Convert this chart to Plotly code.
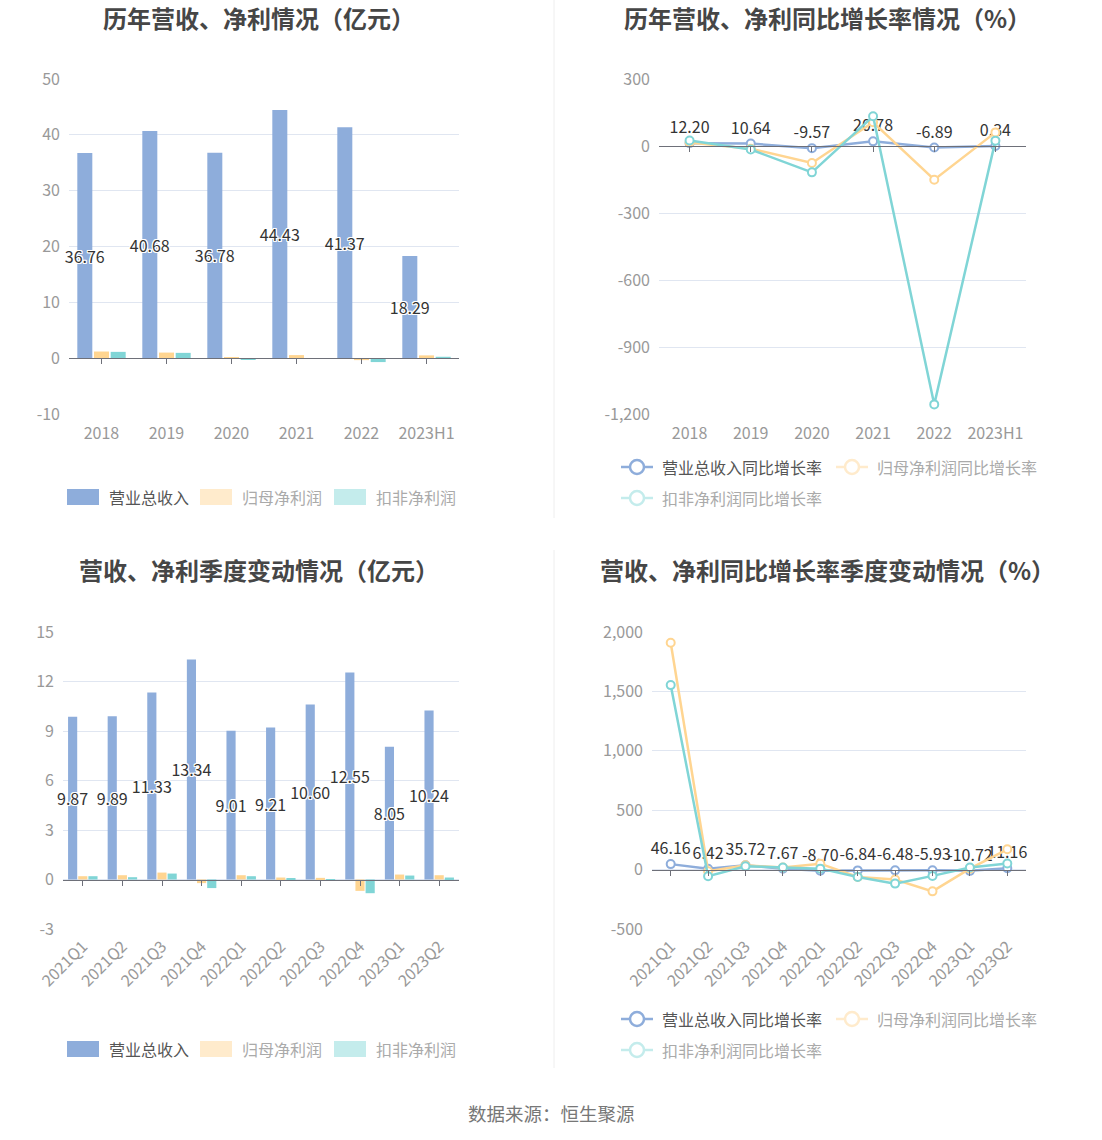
import plotly.graph_objects as go

W, H = 1102, 1140
FONT = "Noto Sans CJK SC, Noto Sans, sans-serif"

# ---------------- data ----------------
years = ["2018", "2019", "2020", "2021", "2022", "2023H1"]
revenue = [36.76, 40.68, 36.78, 44.43, 41.37, 18.29]
net_profit = [1.19, 1.00, 0.20, 0.55, -0.35, 0.50]
deducted_profit = [1.13, 0.95, -0.25, 0.03, -0.70, 0.25]

revenue_yoy = [12.20, 10.64, -9.57, 20.78, -6.89, 0.34]
net_profit_yoy = [16, -12, -76, 106, -151, 61]
deducted_yoy = [25, -16, -118, 133, -1157, 24]

quarters = ["2021Q1", "2021Q2", "2021Q3", "2021Q4", "2022Q1",
            "2022Q2", "2022Q3", "2022Q4", "2023Q1", "2023Q2"]
q_revenue = [9.87, 9.89, 11.33, 13.34, 9.01, 9.21, 10.60, 12.55, 8.05, 10.24]
q_net_profit = [0.20, 0.26, 0.42, -0.22, 0.26, 0.12, 0.10, -0.69, 0.30, 0.26]
q_deducted = [0.20, 0.14, 0.36, -0.52, 0.20, 0.08, -0.03, -0.83, 0.24, 0.12]

q_revenue_yoy = [46.16, 6.42, 35.72, 7.67, -8.70, -6.84, -6.48, -5.93, -10.72, 11.16]
q_net_profit_yoy = [1910, -14, 36, 17, 50, -62, -84, -183, 8, 171]
q_deducted_yoy = [1553, -56, 28, 17, 8, -62, -118, -53, 17, 51]

ticks_tl = [-10, 0, 10, 20, 30, 40, 50]
ticks_tr = [-1200, -900, -600, -300, 0, 300]
ticks_bl = [-3, 0, 3, 6, 9, 12, 15]
ticks_br = [-500, 0, 500, 1000, 1500, 2000]

bar_names = ["营业总收入", "归母净利润", "扣非净利润"]
line_names = ["营业总收入同比增长率", "归母净利润同比增长率", "扣非净利润同比增长率"]
titles = ["历年营收、净利情况（亿元）", "历年营收、净利同比增长率情况（%）",
          "营收、净利季度变动情况（亿元）", "营收、净利同比增长率季度变动情况（%）"]
source_text = "数据来源：恒生聚源"

# ---------------- style ----------------
BLUE, YELLOW, CYAN = "#8EADDB", "#FFD591", "#80D5D6"
PALE = ["#8EADDB", "#FFEBCC", "#C4ECEC"]
COLORS = [BLUE, YELLOW, CYAN]
GRID = "#E0E6F1"
AXIS = "#6E7079"
TICKC = "#999999"
LABEL_SHADOW = ("-1px -1px 0 #fff, 1px -1px 0 #fff, -1px 1px 0 #fff, 1px 1px 0 #fff, "
                "0 1px 0 #fff, 0 -1px 0 #fff, 1px 0 0 #fff, -1px 0 0 #fff")


def px(x):
    return x / W


def py(y):
    return 1 - y / H


fig = go.Figure()


# ---------------- traces ----------------
def add_bars(cats, series, xa, ya):
    for i, (name, vals) in enumerate(zip(bar_names, series)):
        kw = {}
        if i == 0:
            kw = dict(text=[f"{v:.2f}" for v in vals], textposition="inside",
                      insidetextanchor="middle", textangle=0, constraintext="none",
                      insidetextfont=dict(size=16, color="#333333", family=FONT,
                                          shadow=LABEL_SHADOW))
        fig.add_trace(go.Bar(x=cats, y=vals, name=name,
                             marker=dict(color=COLORS[i], line=dict(width=0)),
                             xaxis=xa, yaxis=ya, showlegend=False, cliponaxis=False,
                             hoverinfo="x+y+name", **kw))


def add_lines(cats, series, xa, ya):
    for i, (name, vals) in enumerate(zip(line_names, series)):
        kw = dict(mode="lines+markers")
        if i == 0:
            kw = dict(mode="lines+markers+text", text=[f"{v:.2f}" for v in vals],
                      textposition="top center",
                      textfont=dict(size=16, color="#333333", family=FONT))
        fig.add_trace(go.Scatter(x=cats, y=vals, name=name,
                                 line=dict(color=COLORS[i], width=2.5),
                                 marker=dict(symbol="circle", size=8, color="white",
                                             line=dict(color=COLORS[i], width=2)),
                                 xaxis=xa, yaxis=ya, showlegend=False, cliponaxis=False, **kw))


add_bars(years, [revenue, net_profit, deducted_profit], "x", "y")
add_lines(years, [revenue_yoy, net_profit_yoy, deducted_yoy], "x2", "y2")
add_bars(quarters, [q_revenue, q_net_profit, q_deducted], "x3", "y3")
add_lines(quarters, [q_revenue_yoy, q_net_profit_yoy, q_deducted_yoy], "x4", "y4")

# invisible helper traces for the zero-line tick axes
for cats, xa, ya in [(years, "x5", "y"), (years, "x6", "y2"),
                     (quarters, "x7", "y3"), (quarters, "x8", "y4")]:
    fig.add_trace(go.Scatter(x=cats, y=[0] * len(cats), mode="markers", marker=dict(opacity=0),
                             xaxis=xa, yaxis=ya, hoverinfo="skip", showlegend=False))

# ---------------- axes ----------------
panels = [
    ((69, 459), (414, 79), ticks_tl, years, 0),
    ((659, 1026), (414, 79), ticks_tr, years, 0),
    ((63, 459), (929, 632), ticks_bl, quarters, -45),
    ((652, 1026), (929, 632), ticks_br, quarters, -45),
]

layout_axes = {}
for k, (xd, yd, tv, cats, ang) in enumerate(panels):
    sfx = "" if k == 0 else str(k + 1)
    ydom = [py(yd[0]), py(yd[1])]
    layout_axes[f"xaxis{sfx}"] = dict(
        domain=[px(xd[0]), px(xd[1])], anchor=f"y{sfx}", type="category",
        range=[-0.5, len(cats) - 0.5], showgrid=False, showline=False, zeroline=False,
        ticks="", tickangle=ang, ticklabelstandoff=8 if ang == 0 else 4, automargin=False,
        tickfont=dict(size=16, color=TICKC, family=FONT), fixedrange=True)
    layout_axes[f"yaxis{sfx}"] = dict(
        domain=ydom, anchor=f"x{sfx}", range=[tv[0], tv[-1]],
        tickvals=tv, ticktext=[f"{v:,}" for v in tv],
        showgrid=True, gridcolor=GRID, gridwidth=1, zeroline=False, showline=False,
        ticks="", ticklabelstandoff=8, automargin=False,
        tickfont=dict(size=16, color=TICKC, family=FONT), fixedrange=True)
    zero_pos = ydom[0] + (0 - tv[0]) / (tv[-1] - tv[0]) * (ydom[1] - ydom[0])
    layout_axes[f"xaxis{k + 5}"] = dict(
        overlaying=f"x{sfx}", matches=f"x{sfx}", anchor="free", position=zero_pos,
        type="category", showline=True, linecolor=AXIS, linewidth=1,
        ticks="outside", ticklen=5, tickcolor=AXIS, tickwidth=1, automargin=False,
        showticklabels=False, showgrid=False, zeroline=False, layer="above traces")

# ---------------- titles, legends, decorations ----------------
annotations = []
shapes = []

title_pos = [(259, 17), (827, 17), (259, 569), (827, 569)]
for t, (cx, cy) in zip(titles, title_pos):
    annotations.append(dict(text=f"<b>{t}</b>", x=px(cx), y=py(cy), xref="paper", yref="paper",
                            xanchor="center", yanchor="middle", showarrow=False,
                            font=dict(size=24, color="#464646", family=FONT)))

annotations.append(dict(text=source_text, x=px(551), y=py(1113), xref="paper", yref="paper",
                        xanchor="center", yanchor="middle", showarrow=False,
                        font=dict(size=18.5, color="#777777", family=FONT)))

TEXTC = ["#555555", "#AAAAAA", "#AAAAAA"]

# bar legends
for ly in (497, 1049):
    starts = [67, 200, 334]
    for i, sx in enumerate(starts):
        shapes.append(dict(type="rect", xref="paper", yref="paper",
                           x0=px(sx), x1=px(sx + 32), y0=py(ly + 8), y1=py(ly - 8),
                           fillcolor=PALE[i], line=dict(width=0)))
        annotations.append(dict(text=bar_names[i], x=px(sx + 40), y=py(ly), xref="paper", yref="paper",
                                xanchor="left", yanchor="middle", showarrow=False,
                                font=dict(size=16, color=TEXTC[i], family=FONT)))

# line legends
for ly1, ly2 in ((467, 498), (1019, 1050)):
    items = [(621, ly1), (836, ly1), (621, ly2)]
    for i, (sx, ly) in enumerate(items):
        shapes.append(dict(type="line", xref="paper", yref="paper",
                           x0=px(sx), x1=px(sx + 32), y0=py(ly), y1=py(ly),
                           line=dict(color=PALE[i], width=2.5)))
        shapes.append(dict(type="circle", xref="paper", yref="paper",
                           x0=px(sx + 9), x1=px(sx + 23), y0=py(ly + 7), y1=py(ly - 7),
                           fillcolor="white", line=dict(color=PALE[i], width=2.5)))
        annotations.append(dict(text=line_names[i], x=px(sx + 39), y=py(ly), xref="paper", yref="paper",
                                xanchor="left", yanchor="middle", showarrow=False,
                                font=dict(size=16, color=TEXTC[i], family=FONT)))

# separators
for y0, y1 in ((0, 518), (550, 1068)):
    shapes.append(dict(type="line", xref="paper", yref="paper", x0=px(554), x1=px(554),
                       y0=py(y0), y1=py(y1), line=dict(color="#EEEEEE", width=1)))

fig.update_layout(
    width=W, height=H, autosize=False,
    margin=dict(l=0, r=0, t=0, b=0, pad=0, autoexpand=False),
    paper_bgcolor="white", plot_bgcolor="white",
    barmode="group", bargap=0.23, bargroupgap=0.1,
    font=dict(family=FONT),
    annotations=annotations, shapes=shapes,
    showlegend=False,
    **layout_axes,
)

fig.write_html("out.html")
